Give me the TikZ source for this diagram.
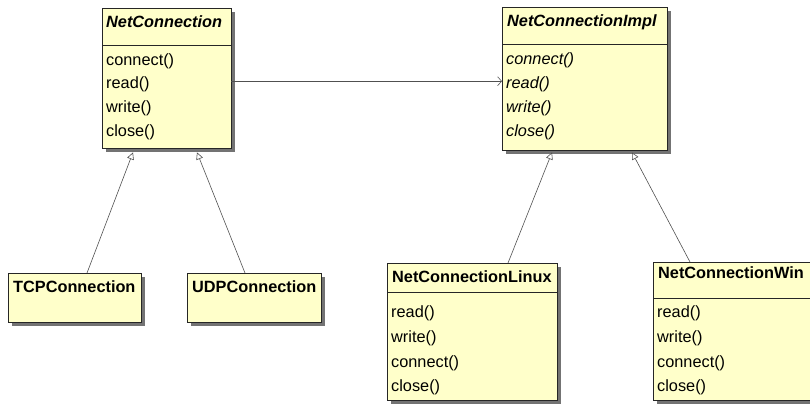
\documentclass[tikz,border=0pt]{standalone}
\usepackage{fontspec}
\setmainfont{Liberation Sans}
\usepackage{tikz}
\usetikzlibrary{arrows.meta,shadows}

\definecolor{umlyellow}{RGB}{255,255,202}
\definecolor{umlline}{RGB}{80,80,80}

\tikzset{
	classbox/.style={draw=black!85, fill=umlyellow, anchor=north west, inner sep=0pt,
		drop shadow={shadow xshift=4pt, shadow yshift=-4pt, fill=black!55, opacity=1}},
	member/.style={anchor=west, inner sep=0pt, font=\fontsize{16.3}{19}\selectfont},
	classname/.style={member, font=\fontsize{16.3}{19}\selectfont\bfseries},
	inherit/.style={draw=umlline, line width=0.6pt, -{Triangle[open, length=7pt, width=7pt, fill=white]}},
	assoc/.style={draw=umlline, line width=0.6pt, -{Straight Barb[length=4pt, width=9pt]}}
}

\begin{document}
\begin{tikzpicture}[x=1pt, y=-1pt]
	\useasboundingbox (0,0) rectangle (810,404);

	%boxes
	\node[classbox, minimum width=129pt, minimum height=140pt] (netconn) at (102,8) {};
	\node[classbox, minimum width=165pt, minimum height=143pt] (impl) 	 at (502,7) {};
	\node[classbox, minimum width=133pt, minimum height=49pt]  (tcp) 	 at (8,273) {};
	\node[classbox, minimum width=134pt, minimum height=49pt]  (udp) 	 at (187,273) {};
	\node[classbox, minimum width=170pt, minimum height=137pt] (linux) 	 at (387,263) {};
	\node[classbox, minimum width=190pt, minimum height=138pt] (win) 	 at (653,262) {};

	%separators
	\draw[black!85]	([yshift=-37pt]netconn.north west) -- ([yshift=-37pt]netconn.north east);
	\draw[black!85]	([yshift=-37pt]impl.north west) -- ([yshift=-37pt]impl.north east);
	\draw[black!85]	([yshift=-29pt]linux.north west) -- ([yshift=-29pt]linux.north east);
	\draw[black!85]	([yshift=-36pt]win.north west) -- ([yshift=-36pt]win.north east);

	%class names
	\node[classname] (netconn-t) at (106,22)  {\itshape NetConnection};
	\node[classname] (impl-t) 	 at (507,22)  {\itshape NetConnectionImpl};
	\node[classname] (tcp-t) 	 at (13,287)  {TCPConnection};
	\node[classname] (udp-t) 	 at (192,287) {UDPConnection};
	\node[classname] (linux-t) 	 at (392,277) {NetConnectionLinux};
	\node[classname] (win-t) 	 at (658,273) {NetConnectionWin};

	%methods
	\node[member] (netconn-1) at (106,61)  {connect()};
	\node[member] (netconn-2) at (106,84)  {read()};
	\node[member] (netconn-3) at (106,108) {write()};
	\node[member] (netconn-4) at (106,132) {close()};

	\node[member] (impl-1) at (506,60)  {\itshape connect()};
	\node[member] (impl-2) at (506,84)  {\itshape read()};
	\node[member] (impl-3) at (506,108) {\itshape write()};
	\node[member] (impl-4) at (506,132) {\itshape close()};

	\node[member] (linux-1) at (391,313) {read()};
	\node[member] (linux-2) at (391,338) {write()};
	\node[member] (linux-3) at (391,363) {connect()};
	\node[member] (linux-4) at (391,387) {close()};

	\node[member] (win-1) at (657,313) {read()};
	\node[member] (win-2) at (657,338) {write()};
	\node[member] (win-3) at (657,363) {connect()};
	\node[member] (win-4) at (657,387) {close()};

	%connectors
	\draw[assoc]	([yshift=-3pt]netconn.east) -- ([yshift=-3pt]netconn.east -| impl.west);
	\draw[inherit]	([xshift=79pt]tcp.north west) -- ([xshift=31pt, yshift=-4pt]netconn.south west);
	\draw[inherit]	([xshift=58pt]udp.north west) -- ([xshift=95pt, yshift=-4pt]netconn.south west);
	\draw[inherit]	([xshift=121pt]linux.north west) -- ([xshift=50pt, yshift=-2pt]impl.south west);
	\draw[inherit]	([xshift=37pt]win.north west) -- ([xshift=130pt, yshift=-2pt]impl.south west);
\end{tikzpicture}
\end{document}
